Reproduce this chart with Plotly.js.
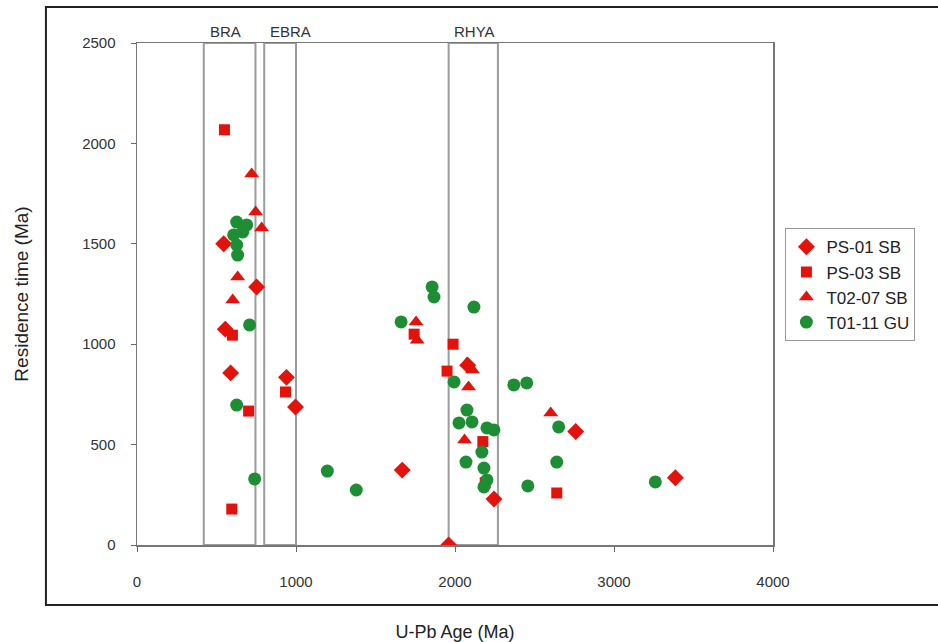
<!DOCTYPE html>
<html>
<head>
<meta charset="utf-8">
<script src="https://cdn.plot.ly/plotly-3.0.1.min.js"></script>
<style>html,body{margin:0;padding:0;background:#fff;}#chart{width:938px;height:642px;}</style>
</head>
<body>
<div id="chart"></div>
<script>
// Series data (U-Pb age in Ma, residence time in Ma)
const ps01_x = [545, 752, 555, 589, 940, 997, 1668, 2080, 2245, 2759, 3386, 1960];
const ps01_y = [1500, 1285, 1075, 857, 835, 687, 373, 895, 229, 565, 335, 0];

const ps03_x = [550, 600, 702, 596, 934, 1988, 1950, 1743, 2640, 2175, 2190];
const ps03_y = [2068, 1045, 667, 179, 762, 1000, 866, 1050, 259, 515, 310];

const t0207_x = [721, 746, 784, 633, 602, 1755, 1762, 2075, 2110, 2085, 2060, 2602];
const t0207_y = [1848, 1658, 1579, 1335, 1220, 1110, 1020, 906, 871, 787, 523, 657];

const t0111_x = [627, 690, 608, 665, 627, 633, 708, 627, 740, 1197, 1379, 1856, 1868, 1661, 2119, 1994, 2370, 2451, 2075, 2107, 2025, 2201, 2245, 2652, 2169, 2069, 2182, 2201, 2182, 2640, 2458, 3260];
const t0111_y = [1608, 1594, 1544, 1559, 1494, 1444, 1096, 697, 329, 368, 274, 1285, 1235, 1111, 1185, 812, 797, 807, 672, 613, 608, 583, 573, 588, 463, 413, 383, 324, 289, 413, 294, 314];

const seriesNames = ["PS-01 SB", "PS-03 SB", "T02-07 SB", "T01-11 GU"];

// Field boxes (age ranges)
const fieldNames = ["BRA", "EBRA", "RHYA"];
const fieldStart = [420, 800, 1960];
const fieldEnd = [745, 1000, 2270];
const fieldLabelX = [558, 965, 2125];

const xTicks = [0, 1000, 2000, 3000, 4000];
const yTicks = [0, 500, 1000, 1500, 2000, 2500];

const RED = "#e3120b";
const GREEN = "#1e8e34";
const FONT = "Liberation Sans, Arial, sans-serif";

const traces = [
  {x: ps01_x, y: ps01_y, name: seriesNames[0], type: "scatter", mode: "markers",
   marker: {symbol: "diamond", size: 13, color: RED}},
  {x: ps03_x, y: ps03_y, name: seriesNames[1], type: "scatter", mode: "markers",
   marker: {symbol: "square", size: 11, color: RED}},
  {x: t0207_x, y: t0207_y, name: seriesNames[2], type: "scatter", mode: "markers",
   marker: {symbol: "triangle-up", size: 13, color: RED}},
  {x: t0111_x, y: t0111_y, name: seriesNames[3], type: "scatter", mode: "markers",
   marker: {symbol: "circle", size: 13, color: GREEN}}
];

const shapes = [];
const annotations = [];
for (let i = 0; i < fieldNames.length; i++) {
  shapes.push({type: "rect", xref: "x", yref: "y", x0: fieldStart[i], x1: fieldEnd[i], y0: 0, y1: 2500,
    line: {color: "#9c9c9c", width: 2}, fillcolor: "rgba(0,0,0,0)", layer: "below"});
  annotations.push({xref: "x", yref: "paper", x: fieldLabelX[i], y: 1.0, yanchor: "bottom", yshift: 1,
    text: fieldNames[i], showarrow: false, font: {family: FONT, size: 15, color: "#333"}});
}
// outer chart frame
shapes.push({type: "rect", xref: "paper", yref: "paper", x0: -0.1432, x1: 1.27, y0: -0.1195, y1: 1.0717,
  line: {color: "#222", width: 2}, fillcolor: "rgba(0,0,0,0)", layer: "below"});

const layout = {
  width: 938, height: 642,
  margin: {l: 137, r: 165, t: 43, b: 97},
  paper_bgcolor: "#fff", plot_bgcolor: "#fff",
  font: {family: FONT, color: "#333"},
  showlegend: true,
  legend: {x: 1.0195, y: 0.631, xanchor: "left", yanchor: "top",
    bordercolor: "#999", borderwidth: 1, bgcolor: "#fff",
    font: {family: FONT, size: 17, color: "#222"}, itemwidth: 30, tracegroupgap: 0},
  xaxis: {range: [0, 4000], tickvals: xTicks, ticks: "outside", ticklen: 5, tickcolor: "#666",
    showline: true, linecolor: "#777", linewidth: 1.5, mirror: true, showgrid: false, zeroline: false,
    tickfont: {family: FONT, size: 15, color: "#333"}, ticklabelstandoff: 17,
    title: {text: "U-Pb Age (Ma)", font: {family: FONT, size: 18, color: "#222"}, standoff: 38}},
  yaxis: {range: [0, 2500], tickvals: yTicks, ticks: "outside", ticklen: 5, tickcolor: "#666",
    showline: true, linecolor: "#777", linewidth: 1.5, mirror: true, showgrid: false, zeroline: false,
    tickfont: {family: FONT, size: 15, color: "#333"}, ticklabelstandoff: 12,
    title: {text: "Residence time (Ma)", font: {family: FONT, size: 19, color: "#222"}, standoff: 48}},
  shapes: shapes,
  annotations: annotations
};

Plotly.newPlot("chart", traces, layout, {displayModeBar: false, staticPlot: true});
</script>
</body>
</html>
